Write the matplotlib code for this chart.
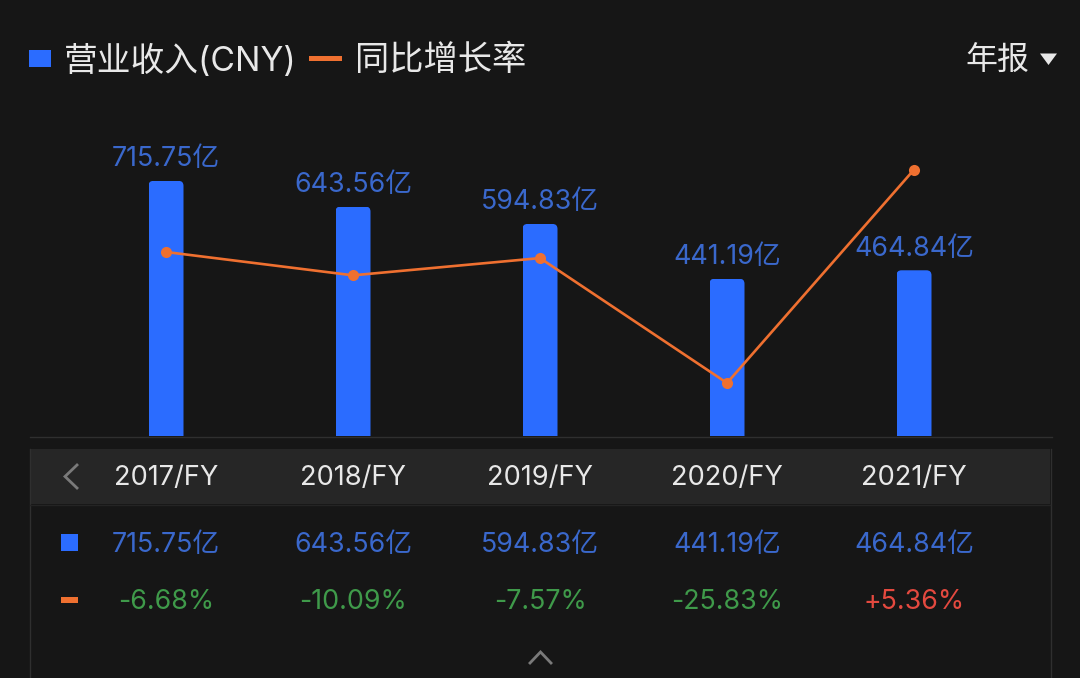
import matplotlib
matplotlib.use("Agg")
import matplotlib.pyplot as plt
from matplotlib.patches import FancyBboxPatch, Rectangle, Polygon

plt.rcParams['font.family'] = ['Inter', 'Noto Sans CJK SC', 'DejaVu Sans']

periods = ['2017/FY', '2018/FY', '2019/FY', '2020/FY', '2021/FY']
revenue = [715.75, 643.56, 594.83, 441.19, 464.84]
growth = [-6.68, -10.09, -7.57, -25.83, 5.36]
revenue_labels = ['715.75亿', '643.56亿', '594.83亿', '441.19亿', '464.84亿']
growth_labels = ['-6.68%', '-10.09%', '-7.57%', '-25.83%', '+5.36%']

BG = '#161616'; STRIP = '#262626'; LINE = '#2f2f2f'
BLUE = '#2b6cff'; LABEL_BLUE = '#3a68cc'; ORANGE = '#ef7030'
GREEN = '#3f9a4a'; RED = '#e4493f'; WHITE = '#e8e8e8'; GREY = '#7a7a7a'

W, H = 1080, 678
fig = plt.figure(figsize=(W / 100, H / 100), dpi=100, facecolor=BG)

# pixel-space canvas for the app chrome and table
bg = fig.add_axes([0, 0, 1, 1], zorder=0)
bg.set_xlim(0, W); bg.set_ylim(H, 0); bg.axis('off')

bg.add_patch(Rectangle((30, 449), 1020, 55, fc=STRIP, ec='none'))
bg.plot([29.5, 29.5], [449, H], color=LINE, lw=1)
bg.plot([1050.5, 1050.5], [449, H], color=LINE, lw=1)
bg.plot([30, 1052], [436.5, 436.5], color=LINE, lw=1)
bg.plot([30, 1050], [504.5, 504.5], color='#242424', lw=1)

# legend row
bg.add_patch(Rectangle((29, 50), 22, 17, fc=BLUE, ec='none'))
bg.text(64, 61, '营业收入(CNY)', color=WHITE, fontsize=24.3, va='center', ha='left')
bg.add_patch(Rectangle((309, 56), 33, 5, fc=ORANGE, ec='none'))
bg.text(355, 61, '同比增长率', color=WHITE, fontsize=24.7, va='center', ha='left')
bg.text(965, 61, '年报', color=WHITE, fontsize=23, va='center', ha='left')
bg.add_patch(Polygon([[1040, 53.5], [1057, 53.5], [1048.5, 65]], fc=WHITE, ec='none'))

# table markers and arrows
bg.plot([77, 65, 77], [465, 476.5, 488], color=GREY, lw=2, solid_joinstyle='miter')
bg.plot([530, 540.5, 551], [663, 652, 663], color=GREY, lw=2, solid_joinstyle='miter')
bg.add_patch(Rectangle((61, 534), 17, 17, fc=BLUE, ec='none'))
bg.add_patch(Rectangle((61, 597), 17, 6, fc=ORANGE, ec='none'))

# chart
X0, X1, TOP, BOT = 30, 1052, 100, 436
rect = [X0 / W, 1 - BOT / H, (X1 - X0) / W, (BOT - TOP) / H]
ax = fig.add_axes(rect, zorder=2)
ax.patch.set_alpha(0); ax.axis('off')
xlim = ((X0 - 166) / 187, (X1 - 166) / 187)
ax.set_xlim(*xlim)
PX_PER_UNIT = 0.3565
ax.set_ylim(0, (BOT - TOP) / PX_PER_UNIT)

xs = list(range(len(periods)))
bar_w = 35 / 187
bars = ax.bar(xs, revenue, width=bar_w, color=BLUE, linewidth=0, zorder=2)
aspect = (1 / PX_PER_UNIT) / (1 / 187)
for x, v, b in zip(xs, revenue, bars):
    clip = FancyBboxPatch((x - bar_w / 2, -30), bar_w, v + 30,
                          boxstyle=f'round,pad=0,rounding_size={5 / 187}',
                          mutation_aspect=aspect, transform=ax.transData)
    b.set_clip_path(clip)

for x, v, s in zip(xs, revenue, revenue_labels):
    ax.annotate(s, (x, v), xytext=(0, 21.5 * 0.72), textcoords='offset points',
                ha='center', va='center', color=LABEL_BLUE, fontsize=19.3, zorder=2)

ax2 = fig.add_axes(rect, zorder=3)
ax2.patch.set_alpha(0); ax2.axis('off')
ax2.set_xlim(*xlim)
G_PX = 6.84
ax2.set_ylim(-6.68 - (BOT - 252) / G_PX, -6.68 + (252 - TOP) / G_PX)
ax2.plot(xs, growth, color=ORANGE, lw=1.9, marker='o', ms=8, mec='none', clip_on=False)

# table axis sharing the category positions
tb = fig.add_axes([X0 / W, 0, (X1 - X0) / W, 1 - BOT / H], zorder=2)
tb.patch.set_alpha(0); tb.axis('off')
tb.set_xlim(*xlim); tb.set_ylim(H, BOT)
for x, p, r, g, gv in zip(xs, periods, revenue_labels, growth_labels, growth):
    tb.text(x, 478, p, color=WHITE, fontsize=19.6, ha='center', va='center')
    tb.text(x, 545.5, r, color=LABEL_BLUE, fontsize=19.3, ha='center', va='center')
    tb.text(x, 602, g, color=RED if gv > 0 else GREEN, fontsize=19.3, ha='center', va='center')

fig.savefig('out.png', dpi=100, facecolor=BG)
